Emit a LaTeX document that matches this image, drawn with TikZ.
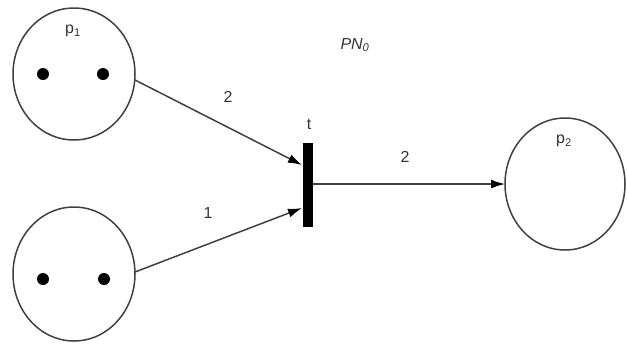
\documentclass[tikz,border=0pt]{standalone}
\usepackage{fontspec}
\setmainfont{Liberation Sans}
\usetikzlibrary{arrows.meta}
\begin{document}
\begin{tikzpicture}[x=1bp,y=-1bp,
  place/.style={draw=black!75,line width=1.5bp},
  token/.style={circle,fill=black,inner sep=0pt,minimum size=12bp},
  arc/.style={draw=black!75,line width=1.5bp,-{Latex[length=14bp,width=9bp,color=black]}},
  lbl/.style={font=\fontsize{16}{18}\selectfont,text=black!80,inner sep=0pt}]
\useasboundingbox (0,0) rectangle (627,344);
\draw[place] (74,74) ellipse [x radius=61, y radius=66];
\draw[place] (74,274) ellipse [x radius=61, y radius=67];
\draw[place] (565,184) ellipse [x radius=60, y radius=66];
\coordinate (p1e) at (135,80);
\coordinate (p3e) at (135,272);
\coordinate (p2w) at (505,184);
\node[token] (k1) at (43,74) {};
\node[token] (k2) at (103,74) {};
\node[token] (k3) at (43,279) {};
\node[token] (k4) at (104,279) {};
\node[lbl] (l1) at (73,31) {p\textsubscript{1}};
\node[lbl] (l2) at (564,141) {p\textsubscript{2}};
\node[fill=black,minimum width=10bp,minimum height=84bp,inner sep=0pt] (t) at (307.5,185) {};
\node[lbl] (tl) at (309,124) {t};
\node[lbl] (pn) at (355,45) {\itshape PN\textsubscript{0}};
\coordinate (tin1) at (302,165);
\coordinate (tin2) at (302,208);
\draw[arc] (p1e) -- (tin1);
\draw[arc] (p3e) -- (tin2);
\draw[arc] (t.east |- p2w) -- (p2w);
\node[lbl] (a1) at (228,97) {2};
\node[lbl] (a2) at (208,213) {1};
\node[lbl] (a3) at (405,157) {2};
\end{tikzpicture}
\end{document}
